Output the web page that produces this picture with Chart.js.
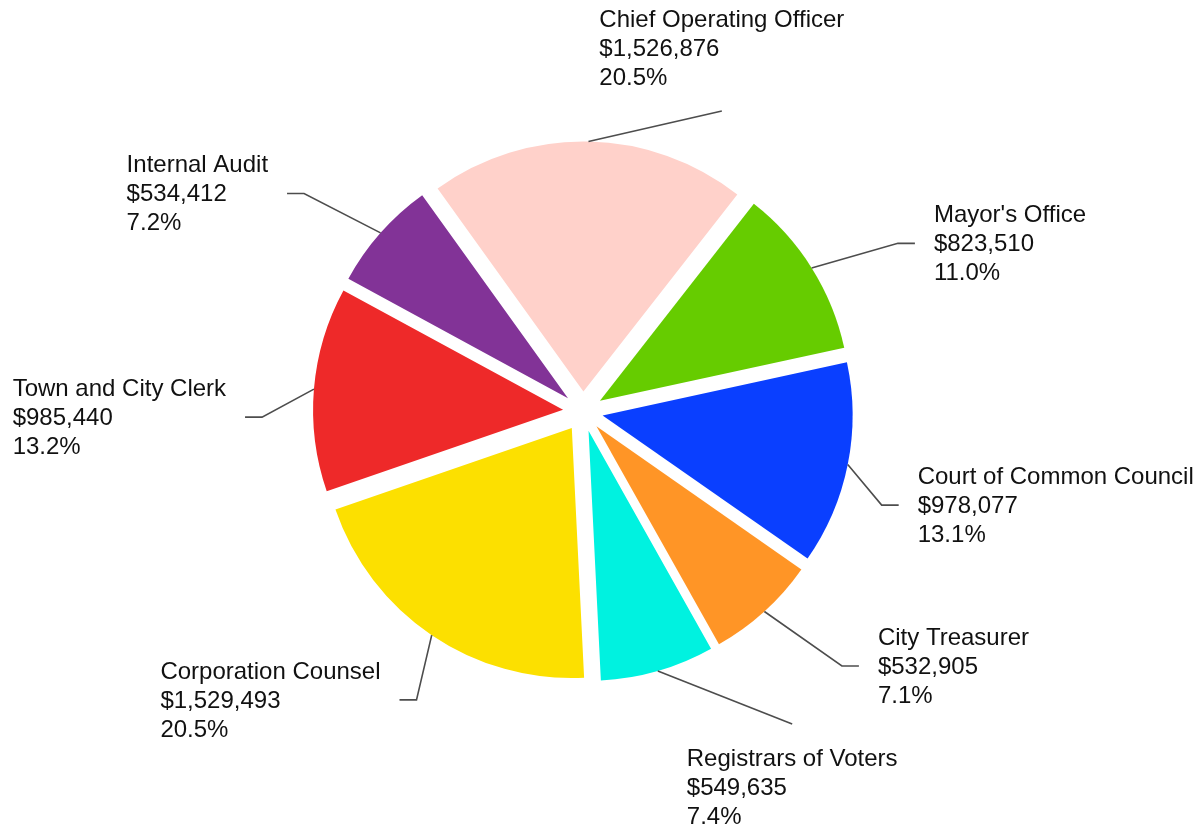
<!DOCTYPE html>
<html>
<head>
<meta charset="utf-8">
<script src="https://cdn.jsdelivr.net/npm/chart.js@4/dist/chart.umd.min.js"></script>
<style>
  html, body { margin: 0; padding: 0; background: #fff; }
  #wrap { width: 1202px; height: 829px; }
</style>
</head>
<body>
<div id="wrap"><canvas id="myChart"></canvas></div>
<script>
const departments = ["Mayor's Office", "Court of Common Council", "City Treasurer", "Registrars of Voters",
  "Corporation Counsel", "Town and City Clerk", "Internal Audit", "Chief Operating Officer"];
const budget = [823510, 978077, 532905, 549635, 1529493, 985440, 534412, 1526876];
const sliceColors = ['#66cc00', '#0a3fff', '#ff9526', '#00f2e0', '#fce000', '#ee2929', '#823397', '#ffd1ca'];

// label placement: where the leader line bends (deg from 12 o'clock, px from pie centre) and where text goes
const bendAngle = [61.9, 107.4, 134.5, 146.2, 210, 269, 308, 24.8];
const bendRadius = [357, 313, 363, 376, 333, 321, 354, 331];
const labelSide = ['right', 'right', 'right', 'below', 'left', 'left', 'left', 'above'];

const explode = 20;
const lineH = 29;

const money = v => '$' + String(v).replace(/\B(?=(\d{3})+(?!\d))/g, ',');

const explodedPie = {
  id: 'explodedPie',
  beforeDatasetDraw(chart, args) {
    const ctx = chart.ctx;
    args.meta.data.forEach(arc => {
      const mid = (arc.startAngle + arc.endAngle) / 2;
      ctx.save();
      ctx.translate(Math.cos(mid) * explode, Math.sin(mid) * explode);
      arc.draw(ctx);
      ctx.restore();
    });
    return false;
  },
  afterDatasetsDraw(chart) {
    const ctx = chart.ctx;
    const arcs = chart.getDatasetMeta(0).data;
    const total = budget.reduce((a, b) => a + b, 0);
    ctx.save();
    ctx.strokeStyle = '#4d4d4d';
    ctx.lineWidth = 1.6;
    ctx.font = '24px "Liberation Sans", Arial, sans-serif';
    ctx.fillStyle = '#111';
    ctx.textBaseline = 'middle';
    ctx.textAlign = 'left';
    arcs.forEach((arc, i) => {
      const mid = (arc.startAngle + arc.endAngle) / 2;
      const sx = arc.x + Math.cos(mid) * (explode + arc.outerRadius);
      const sy = arc.y + Math.sin(mid) * (explode + arc.outerRadius);
      const a = (bendAngle[i] - 90) * Math.PI / 180;
      const bx = arc.x + Math.cos(a) * bendRadius[i];
      const by = arc.y + Math.sin(a) * bendRadius[i];
      const side = labelSide[i];
      ctx.beginPath();
      ctx.moveTo(sx, sy);
      ctx.lineTo(bx, by);
      if (side === 'right') ctx.lineTo(bx + 17, by);
      if (side === 'left') ctx.lineTo(bx - 17, by);
      ctx.stroke();

      const lines = [departments[i], money(budget[i]), (budget[i] / total * 100).toFixed(1) + '%'];
      const w = Math.max(...lines.map(t => ctx.measureText(t).width));
      let tx, ty;
      if (side === 'right') { tx = bx + 36; ty = by + 1 - lineH; }
      else if (side === 'left') { tx = bx - 36 - w; ty = by + 1 - lineH; }
      else if (side === 'above') { tx = bx - w / 2; ty = by - 33 - 2 * lineH; }
      else { tx = bx - w / 2; ty = by + 35; }
      lines.forEach((t, k) => ctx.fillText(t, tx, ty + k * lineH));
    });
    ctx.restore();
  }
};

const ctx = document.getElementById('myChart').getContext('2d');
new Chart(ctx, {
  type: 'pie',
  data: {
    labels: departments,
    datasets: [{
      data: budget,
      backgroundColor: sliceColors,
      borderWidth: 0,
      hoverOffset: 0
    }]
  },
  options: {
    responsive: true,
    maintainAspectRatio: false,
    animation: false,
    rotation: 38,
    radius: 250,
    layout: { padding: { left: 0, right: 36, top: 0, bottom: 6 } },
    events: [],
    plugins: {
      legend: { display: false },
      tooltip: { enabled: false }
    }
  },
  plugins: [explodedPie]
});
</script>
</body>
</html>
